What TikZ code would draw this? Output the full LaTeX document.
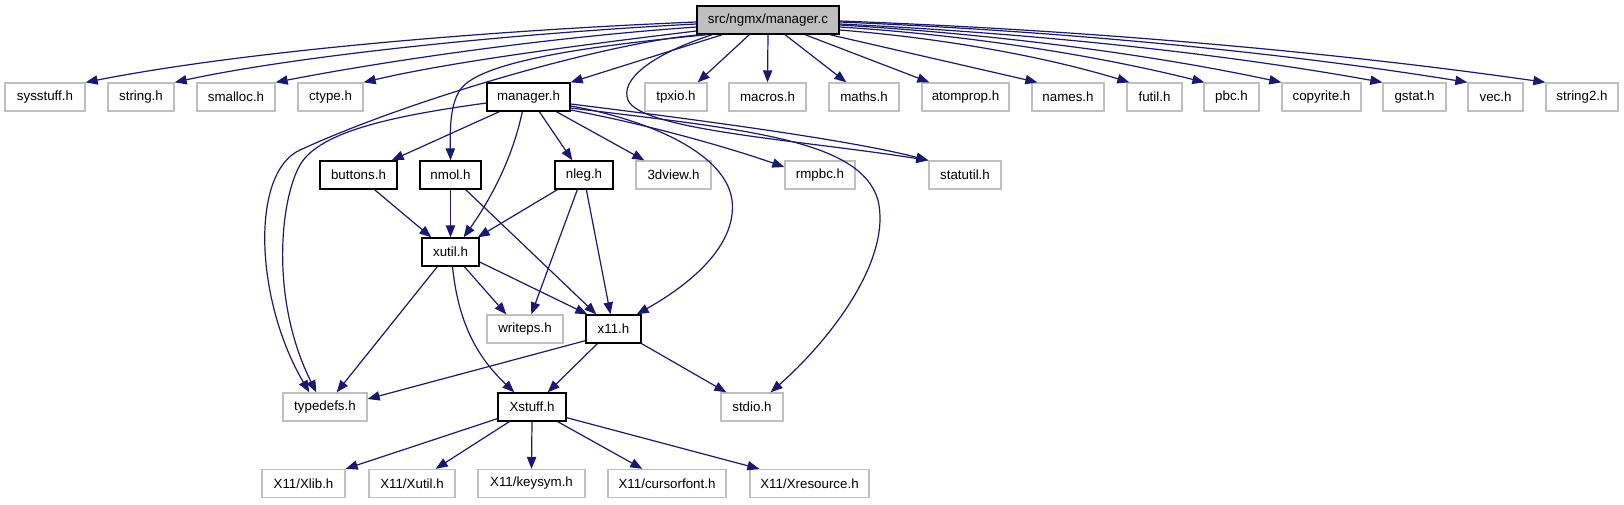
\documentclass[tikz,border=0pt]{standalone}
\usepackage{fontspec}
\setmainfont{Liberation Sans}
\usetikzlibrary{arrows.meta,calc}
\definecolor{boxgray}{HTML}{BFBFBF}
\definecolor{edgeblue}{HTML}{191970}
\tikzset{
  nb/.style={draw=black, line width=1pt, fill=white, minimum height=21pt, inner sep=0pt, font=\fontsize{10}{12}\selectfont},
  gb/.style={nb, draw=boxgray},
  rootb/.style={nb, fill=boxgray},
  wd/.style={minimum width=#1*0.75pt},
  e/.style={draw=edgeblue, line width=0.9pt, -{Triangle[length=9pt,width=7pt]}},
}
\begin{document}
\begin{tikzpicture}[x=0.75pt,y=-0.75pt]
\useasboundingbox (0,0) rectangle (1624,504);
% row 1
\node[rootb, wd=142] (mc) at (768,20) {src/ngmx/manager.c};
% row 2
\node[gb, wd=80] (sysstuff) at (45,97) {sysstuff.h};
\node[gb, wd=66] (string) at (141,97) {string.h};
\node[gb, wd=78] (smalloc) at (236,97) {smalloc.h};
\node[gb, wd=65] (ctype) at (330.5,97) {ctype.h};
\node[nb, wd=83] (managerh) at (528.5,97) {manager.h};
\node[gb, wd=62] (tpxio) at (676,97) {tpxio.h};
\node[gb, wd=77] (macros) at (767.5,97) {macros.h};
\node[gb, wd=70] (maths) at (864,97) {maths.h};
\node[gb, wd=87] (atomprop) at (965.5,97) {atomprop.h};
\node[gb, wd=72] (names) at (1068,97) {names.h};
\node[gb, wd=55] (futil) at (1154.5,97) {futil.h};
\node[gb, wd=55] (pbc) at (1231.5,97) {pbc.h};
\node[gb, wd=79] (copyrite) at (1321.5,97) {copyrite.h};
\node[gb, wd=63] (gstat) at (1414.5,97) {gstat.h};
\node[gb, wd=55] (vec) at (1495.5,97) {vec.h};
\node[gb, wd=72] (string2) at (1582,97) {string2.h};
% row 3
\node[nb, wd=77] (buttons) at (358.5,175) {buttons.h};
\node[nb, wd=61] (nmol) at (450.5,175) {nmol.h};
\node[nb, wd=58] (nleg) at (584,175) {nleg.h};
\node[gb, wd=75] (dview) at (673.5,175) {3dview.h};
\node[gb, wd=70] (rmpbc) at (820,175) {rmpbc.h};
\node[gb, wd=72] (statutil) at (965,175) {statutil.h};
% row 4
\node[nb, wd=57] (xutil) at (450.5,252) {xutil.h};
% row 5
\node[gb, wd=76] (writeps) at (525,329) {writeps.h};
\node[nb, wd=55] (x11) at (613.5,329) {x11.h};
% row 6
\node[gb, wd=84] (typedefs) at (325,407) {typedefs.h};
\node[nb, wd=68] (Xstuff) at (532,407) {Xstuff.h};
\node[gb, wd=62] (stdio) at (752,407) {stdio.h};
% row 7
\node[gb, wd=83] (Xlib) at (303.5,483.5) {X11/Xlib.h};
\node[gb, wd=86] (Xutil) at (412,483.5) {X11/Xutil.h};
\node[gb, wd=107] (keysym) at (531.5,483.5) {X11/keysym.h};
\node[gb, wd=118] (cursorfont) at (667,483.5) {X11/cursorfont.h};
\node[gb, wd=119] (Xresource) at (809.5,483.5) {X11/Xresource.h};

% edges from manager.c
\draw[e] ($(mc.west)+(0,2)$) .. controls (500,30) and (250,50) .. (sysstuff.north east);
\draw[e] ($(mc.west)+(0,4)$) .. controls (520,33) and (300,55) .. (string.north east);
\draw[e] ($(mc.west)+(0,7)$) .. controls (540,38) and (380,62) .. (smalloc.north east);
\draw[e] ($(mc.west)+(0,11)$) .. controls (580,45) and (450,62) .. (ctype.north east);
\draw[e] ($(mc.south west)+(6,0)$) .. controls (620,40) and (420,95) .. (300,150) .. controls (250,173) and (255,300) .. ($(typedefs.north west)+(27,0)$);
\draw[e] ($(mc.south west)+(11,0)$) .. controls (600,45) and (480,60) .. (460,90) .. controls (450,105) and (450,130) .. (nmol.north);
\draw[e] ($(mc.south west)+(26,0)$) -- (managerh.north east);
\draw[e] ($(mc.south west)+(16,0)$) .. controls (650,55) and (620,80) .. (628,100) .. controls (640,130) and (800,140) .. (statutil.north west);
\draw[e] ($(mc.south west)+(53,0)$) -- ($(tpxio.north east)+(-10,0)$);
\draw[e] (mc.south) -- (macros.north);
\draw[e] ($(mc.south)+(17,0)$) -- ($(maths.north west)+(18,0)$);
\draw[e] ($(mc.south)+(37,0)$) -- ($(atomprop.north west)+(8,0)$);
\draw[e] ($(mc.south east)+(-10,0)$) -- ($(names.north west)+(6,0)$);
\draw[e] ($(mc.east)+(0,10)$) .. controls (941,38) and (1043,56) .. ($(futil.north west)+(3,0)$);
\draw[e] ($(mc.east)+(0,7)$) .. controls (967,35) and (1095,55) .. ($(pbc.north west)+(1,0)$);
\draw[e] ($(mc.east)+(0,5)$) .. controls (994,34) and (1149,54) .. (copyrite.north west);
\draw[e] ($(mc.east)+(0,4)$) .. controls (1030,33) and (1220,53) .. (gstat.north west);
\draw[e] ($(mc.east)+(0,2)$) .. controls (1060,31) and (1280,52) .. (vec.north west);
\draw[e] ($(mc.east)+(0,1)$) .. controls (1086,30) and (1334,52) .. (string2.north west);

% edges from manager.h
\draw[e] ($(managerh.west)+(0,6)$) .. controls (400,115) and (320,130) .. (300,165) .. controls (280,200) and (270,300) .. ($(typedefs.north west)+(34,0)$);
\draw[e] ($(managerh.south west)+(13,0)$) -- ($(buttons.north east)+(-6,0)$);
\draw[e] ($(managerh.south west)+(36,0)$) .. controls (512,160) and (490,200) .. ($(xutil.north east)+(-16,0)$);
\draw[e] ($(managerh.south west)+(53,0)$) -- ($(nleg.north west)+(18,0)$);
\draw[e] ($(managerh.south west)+(70,0)$) -- ($(dview.north west)+(9,0)$);
\draw[e] ($(managerh.east)+(0,13)$) .. controls (650,125) and (730,148) .. ($(rmpbc.west)+(0,-8)$);
\draw[e] ($(managerh.east)+(0,7)$) .. controls (700,120) and (850,140) .. (statutil.north west);
\draw[e] ($(managerh.east)+(0,9)$) .. controls (640,118) and (725,150) .. (732,200) .. controls (738,250) and (680,290) .. ($(x11.north east)+(-5,0)$);
\draw[e] ($(managerh.east)+(0,11)$) .. controls (750,130) and (860,140) .. (878,200) .. controls (892,260) and (830,340) .. ($(stdio.north east)+(-13,0)$);

% middle edges
\draw[e] ($(buttons.south)+(16,0)$) -- ($(xutil.north west)+(10,0)$);
\draw[e] (nmol.south) -- (xutil.north);
\draw[e] ($(nmol.south east)+(-16,0)$) -- ($(x11.north west)+(11,0)$);
\draw[e] ($(nleg.south west)+(3,0)$) -- ($(xutil.north east)+(-2,0)$);
\draw[e] ($(nleg.south west)+(23,0)$) -- ($(writeps.north west)+(45,0)$);
\draw[e] ($(nleg.south west)+(32,0)$) -- ($(x11.north)+(-3,0)$);
\draw[e] ($(xutil.south west)+(16,0)$) -- ($(typedefs.north east)+(-31,0)$);
\draw[e] ($(xutil.south)+(2,0)$) .. controls (458,320) and (475,355) .. ($(Xstuff.north west)+(17,0)$);
\draw[e] ($(xutil.south west)+(43,0)$) -- ($(writeps.north west)+(20,0)$);
\draw[e] ($(xutil.east)+(0,10)$) -- ($(x11.north west)+(2,0)$);
\draw[e] ($(x11.south west)+(0,-3)$) -- ($(typedefs.east)+(0,-8)$);
\draw[e] ($(x11.south west)+(12,0)$) -- ($(Xstuff.north east)+(-19,0)$);
\draw[e] (x11.south east) -- ($(stdio.north west)+(6,0)$);
\draw[e] ($(Xstuff.south west)+(0,-3)$) -- (Xlib.north east);
\draw[e] ($(Xstuff.south west)+(12,0)$) -- ($(Xutil.north east)+(-20,0)$);
\draw[e] (Xstuff.south) -- (keysym.north);
\draw[e] ($(Xstuff.south east)+(-9,0)$) -- ($(cursorfont.north west)+(35,0)$);
\draw[e] ($(Xstuff.south east)+(0,-4)$) -- ($(Xresource.north west)+(10,0)$);
\end{tikzpicture}
\end{document}
